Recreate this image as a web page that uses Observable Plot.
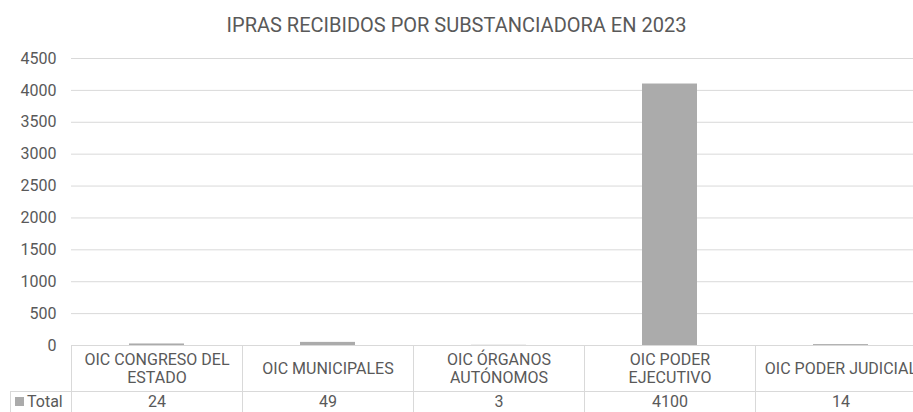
<!DOCTYPE html>
<html><head><meta charset="utf-8">
<script src="https://cdn.jsdelivr.net/npm/d3@7"></script>
<script src="https://cdn.jsdelivr.net/npm/@observablehq/plot@0.6"></script>
<style>
html,body{margin:0;padding:0;background:#fff;overflow:hidden;width:913px;height:412px;}
body{font-family:Roboto,sans-serif;color:#595959;position:relative;}
#title{position:absolute;left:0;top:13px;width:913px;text-align:center;font-size:20px;line-height:24px;color:#595959;}
#chart{position:absolute;left:0;top:40px;}
#chart svg{overflow:visible;max-width:none;}
.cell{position:absolute;box-sizing:border-box;border-color:#d9d9d9;border-style:solid;border-width:0;
  display:flex;flex-direction:column;align-items:center;justify-content:center;font-size:16px;line-height:18px;color:#595959;text-align:center;white-space:nowrap;overflow:hidden;}
.key{display:inline-block;width:9px;height:9px;background:#ababab;margin-right:3px;vertical-align:middle;position:relative;top:-1px;}
</style></head><body>
<div id="title">IPRAS RECIBIDOS POR SUBSTANCIADORA EN 2023</div>
<div id="chart"></div>
<div id="table"></div>
<script>
const categories = ["OIC CONGRESO DEL ESTADO","OIC MUNICIPALES","OIC ÓRGANOS AUTÓNOMOS","OIC PODER EJECUTIVO","OIC PODER JUDICIAL"];
const headerLines = [["OIC CONGRESO DEL","ESTADO"],["OIC MUNICIPALES"],["OIC ÓRGANOS","AUTÓNOMOS"],["OIC PODER","EJECUTIVO"],["OIC PODER JUDICIAL"]];
const totals = [24,49,3,4100,14];
const yTicks = [0,500,1000,1500,2000,2500,3000,3500,4000,4500];
const seriesName = "Total";

const data = categories.map((c,i)=>({cat:c, value:totals[i]}));
const barColor = "#ababab";

const plot = Plot.plot({
  width: 940, height: 306,
  marginLeft: 71, marginRight: 14, marginTop: 18, marginBottom: 1,
  style: {fontFamily: "Roboto, sans-serif", fontSize: "16px", color: "#595959", overflow: "visible", background: "transparent"},
  x: {domain: categories, paddingInner: 0.68, paddingOuter: 0.34, axis: null},
  y: {domain: [0, 4500], axis: null},
  marks: [
    Plot.gridY(yTicks.filter(t => t > 0), {stroke: "#d9d9d9", strokeOpacity: 1, strokeWidth: 1}),
    Plot.axisY(yTicks, {tickSize: 0, tickPadding: 15, fill: "#595959", fontSize: 16, label: null, tickFormat: d => String(d)}),
    Plot.barY(data, {x: "cat", y: "value", fill: barColor})
  ]
});
document.getElementById("chart").appendChild(plot);

// Data table aligned with the x band scale
const xs = plot.scale("x");
const step = xs.step, bw = xs.bandwidth;
const colLeft = c => xs.apply(c) - (step - bw) / 2;
const top0 = 40 + plot.scale("y").apply(0);   // page y of the zero line
const headH = 46, rowH = 22;
const table = document.getElementById("table");
function cell(left, top, width, height, borders, html) {
  const d = document.createElement("div");
  d.className = "cell";
  Object.assign(d.style, {left: left + "px", top: top + "px", width: width + "px", height: height + "px"});
  borders.forEach(b => d.style["border" + b + "Width"] = "1px");
  d.innerHTML = html;
  table.appendChild(d);
}
categories.forEach((c, i) => {
  const l = Math.round(colLeft(c));
  cell(l, Math.floor(top0), Math.round(step) + 1, headH + 1, ["Left", "Top", "Right"], headerLines[i].map(s => `<div>${s}</div>`).join(""));
  cell(l, Math.floor(top0) + headH, Math.round(step) + 1, rowH, ["Left", "Top", "Right", "Bottom"], String(totals[i]));
});
const firstLeft = Math.round(colLeft(categories[0]));
cell(10, Math.floor(top0) + headH, firstLeft - 10 + 1, rowH, ["Left", "Top", "Bottom"],
  `<div style="align-self:flex-start;padding-left:4px"><span class="key"></span>${seriesName}</div>`);
</script>
</body></html>
